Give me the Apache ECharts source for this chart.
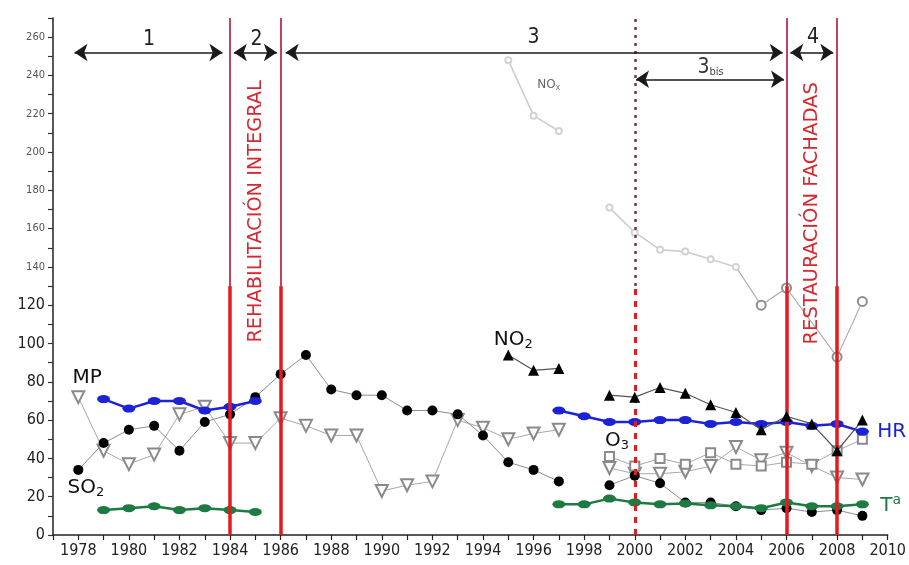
<!DOCTYPE html>
<html>
<head>
<meta charset="utf-8">
<script src="https://cdn.jsdelivr.net/npm/echarts@6/dist/echarts.min.js"></script>
<style>
  html, body { margin: 0; padding: 0; background: #ffffff; }
  #chart { width: 909px; height: 565px; }
</style>
</head>
<body>
<div id="chart"></div>
<script>
// Yearly series, 1978-2009 (null = no measurement that year)
const years = [1978,1979,1980,1981,1982,1983,1984,1985,1986,1987,1988,1989,1990,1991,1992,1993,
               1994,1995,1996,1997,1998,1999,2000,2001,2002,2003,2004,2005,2006,2007,2008,2009];
const so2 = [34,48,55,57,44,59,63,72,84,94,76,73,73,65,65,63,52,38,34,28,null,26,31,27,17,17,15,13,14,12,13,10];
const mp  = [72,44,37,42,63,67,48,48,61,57,52,52,23,26,28,60,56,50,53,55,null,35,32,32,33,36,46,39,43,36,30,29];
const no2 = [null,null,null,null,null,null,null,null,null,null,null,null,null,null,null,null,
             null,94,86,87,null,73,72,77,74,68,64,55,62,58,44,60];
const o3  = [null,null,null,null,null,null,null,null,null,null,null,null,null,null,null,null,
             null,null,null,null,null,41,36,40,37,43,37,36,38,37,44,50];
const hr  = [null,71,66,70,70,65,67,70,null,null,null,null,null,null,null,null,
             null,null,null,65,62,59,59,60,60,58,59,58,59,57,58,54];
const ta  = [null,13,14,15,13,14,13,12,null,null,null,null,null,null,null,null,
             null,null,null,16,16,19,17,16,16.5,15.5,15,14,17,15,15,16];
// NOx: no value for 2007, the line runs straight from 2006 to 2008
const noxYears  = [1995,1996,1997,1998,1999,2000,2001,2002,2003,2004,2005,2006,2008,2009];
const noxValues = [248,219,211,null,171,158,149,148,144,140,120,129,93,122];
const noxHighEnd = 10; // first points (through 2004) belong to the faint upper panel

// Works on the building: solid lines bound the works, dashed line marks 2000
const worksYears = [1984, 1986, 2006, 2008];
const splitYear = 2000;
const worksTexts = [
  { x: 1985, bottom: 100.5, top: 237.5, text: 'REHABILITACIÓN INTEGRAL' },
  { x: 2007, bottom: 99.5, top: 236.5, text: 'RESTAURACIÓN FACHADAS' }
];
// Period arrows: [from, to, level, label, labelX, labelLevel]
const periods = [
  [1977.85, 1983.7, 252, '1', 1980.8, 259],
  [1984.15, 1985.85, 252, '2', 1985.05, 259],
  [1986.2, 2005.85, 252, '3', 1996.0, 260],
  [2006.15, 2007.85, 252, '4', 2007.05, 260],
  [2000.05, 2005.9, 238, '3bis', 2003.0, 244]
];

const FONT = '"DejaVu Sans", Verdana, sans-serif';
const AXIS_FONT = '"DejaVu Sans Condensed", "Liberation Sans", Arial, sans-serif';
const YMAX = 270;

function pairs(xs, vs) {
  return xs.map((x, i) => [x, vs[i] == null ? '-' : vs[i]]);
}

const seriesCommon = { type: 'line', z: 4, animation: false, connectNulls: false };

const markLines = [];
worksYears.forEach(yr => {
  markLines.push([
    { coord: [yr, 0], lineStyle: { color: '#e31b1f', width: 3.5, type: 'solid' } },
    { coord: [yr, 130] }
  ]);
  markLines.push([
    { coord: [yr, 130], lineStyle: { color: '#b8304a', width: 1.8, type: 'solid' } },
    { coord: [yr, YMAX] }
  ]);
});
markLines.push([
  { coord: [splitYear, 0], lineStyle: { color: '#e31b1f', width: 3, type: [6, 6] } },
  { coord: [splitYear, 130] }
]);
markLines.push([
  { coord: [splitYear, 130], lineStyle: { color: '#6e3a52', width: 2.5, type: [3, 5] } },
  { coord: [splitYear, YMAX] }
]);

const arrowLines = periods.map(p => [
  { coord: [p[0], p[2]] },
  { coord: [p[1], p[2]] }
]);

const textRich = {
  big: { fontSize: 21, color: '#222', fontFamily: AXIS_FONT },
  n: { fontSize: 20, color: '#111', fontFamily: FONT },
  sub: { fontSize: 13, color: '#111', fontFamily: FONT, padding: [9, 0, 0, 0] },
  bisN: { fontSize: 21, color: '#333', fontFamily: AXIS_FONT },
  bisS: { fontSize: 11, color: '#444', fontFamily: AXIS_FONT, padding: [8, 0, 0, 0] },
  hr: { fontSize: 20, color: '#1c22d6', fontFamily: FONT },
  ta: { fontSize: 20, color: '#1d7a42', fontFamily: FONT },
  taSup: { fontSize: 14, color: '#1d7a42', fontFamily: FONT, padding: [0, 0, 9, 0] },
  nox: { fontSize: 12, color: '#666', fontFamily: FONT },
  noxS: { fontSize: 8, color: '#777', fontFamily: FONT, padding: [5, 0, 0, 0] }
};

function tag(x, y, formatter, offset) {
  return {
    coord: [x, y], symbolSize: 0,
    label: { show: true, position: 'inside', formatter: formatter, rich: textRich, offset: offset || [0, 0] }
  };
}

const labels = [
  tag(1978.35, 82, '{n|MP}'),
  tag(1978.3, 24.5, '{n|SO}{sub|2}'),
  tag(1995.2, 102, '{n|NO}{sub|2}'),
  tag(1999.3, 49, '{n|O}{sub|3}'),
  // side labels sit just past the last year on the axis
  tag(2010, 54, '{hr|HR}', [4, 0]),
  tag(2010, 15.5, '{ta|T}{taSup|a}', [3, 0]),
  tag(1996.6, 235, '{nox|NO}{noxS|x}')
];
periods.forEach(p => {
  if (p[3] === '3bis') labels.push(tag(p[4], p[5], '{bisN|3}{bisS|bis}'));
  else labels.push(tag(p[4], p[5], '{big|' + p[3] + '}'));
});

const noxLow = pairs(noxYears.slice(noxHighEnd - 1), noxValues.slice(noxHighEnd - 1));
noxLow[0] = { value: noxLow[0], symbolSize: 0 };

const option = {
  backgroundColor: '#ffffff',
  animation: false,
  grid: { left: 53, right: 19, top: 18, bottom: 30, containLabel: false },
  xAxis: {
    type: 'value', min: 1977, max: 2010, interval: 1,
    axisLine: { show: true, lineStyle: { color: '#222', width: 1.5 } },
    axisTick: { show: true, length: 5, lineStyle: { color: '#222', width: 1.2 } },
    axisLabel: {
      margin: 8, fontSize: 16, color: '#222', fontFamily: AXIS_FONT,
      formatter: v => (v % 2 === 0 && v >= 1978) ? String(v) : ''
    },
    splitLine: { show: false }
  },
  yAxis: {
    type: 'value', min: 0, max: YMAX, interval: 10,
    axisLine: { show: true, onZero: false, lineStyle: { color: '#222', width: 1.5 } },
    axisTick: { show: true, length: 5, lineStyle: { color: '#333', width: 1.2 } },
    axisLabel: {
      margin: 8, fontFamily: AXIS_FONT,
      formatter: v => (v % 20 !== 0 || v > 260) ? '' : (v >= 140 ? '{u|' + v + '}' : '{l|' + v + '}'),
      rich: {
        u: { fontSize: 11, color: '#555', fontFamily: AXIS_FONT },
        l: { fontSize: 16, color: '#222', fontFamily: AXIS_FONT }
      }
    },
    splitLine: { show: false }
  },
  series: [
    {
      type: 'line', name: 'marks', data: [], z: 2, silent: true, clip: false,
      markLine: { silent: true, symbol: ['none', 'none'], label: { show: false }, data: markLines, animation: false }
    },
    {
      type: 'line', name: 'periods', data: [], z: 5, silent: true, clip: false,
      markLine: {
        silent: true, symbol: ['arrow', 'arrow'], symbolSize: 13,
        lineStyle: { color: '#1a1a1a', width: 1.5, type: 'solid' },
        label: { show: false }, data: arrowLines, animation: false
      },
      markPoint: { silent: true, data: labels, animation: false }
    },
    Object.assign({}, seriesCommon, {
      name: 'NOx', data: pairs(noxYears.slice(0, noxHighEnd), noxValues.slice(0, noxHighEnd)),
      symbol: 'emptyCircle', symbolSize: 6,
      itemStyle: { color: '#d2d2d2', borderWidth: 1 },
      lineStyle: { color: '#cdcdcd', width: 1.6 }
    }),
    Object.assign({}, seriesCommon, {
      name: 'NOx', data: noxLow,
      symbol: 'emptyCircle', symbolSize: 9,
      itemStyle: { color: '#8e8e8e', borderWidth: 1.1 },
      lineStyle: { color: '#a8a8a8', width: 1.1 }
    }),
    Object.assign({}, seriesCommon, {
      name: 'MP', data: pairs(years, mp),
      symbol: 'emptyTriangle', symbolRotate: 180, symbolSize: 12,
      itemStyle: { color: '#8a8a8a', borderWidth: 1.2 },
      lineStyle: { color: '#a8a8a8', width: 1 }
    }),
    Object.assign({}, seriesCommon, {
      name: 'O3', data: pairs(years, o3),
      symbol: 'emptyRect', symbolSize: 9,
      itemStyle: { color: '#8a8a8a', borderWidth: 1.2 },
      lineStyle: { color: '#a8a8a8', width: 1 }
    }),
    Object.assign({}, seriesCommon, {
      name: 'SO2', data: pairs(years, so2),
      symbol: 'circle', symbolSize: 10,
      itemStyle: { color: '#000000' },
      lineStyle: { color: '#8c8c8c', width: 1 }
    }),
    Object.assign({}, seriesCommon, {
      name: 'HR', data: pairs(years, hr),
      symbol: 'circle', symbolSize: [13, 8],
      itemStyle: { color: '#1c22d6' },
      lineStyle: { color: '#1c22d6', width: 2.5 }
    }),
    Object.assign({}, seriesCommon, {
      name: 'Ta', data: pairs(years, ta),
      symbol: 'circle', symbolSize: [13, 8],
      itemStyle: { color: '#1d7a42' },
      lineStyle: { color: '#1d7a42', width: 2.5 }
    }),
    Object.assign({}, seriesCommon, {
      name: 'NO2', data: pairs(years, no2), z: 6,
      symbol: 'triangle', symbolSize: 11,
      itemStyle: { color: '#000000' },
      lineStyle: { color: '#555555', width: 1.2 }
    })
  ]
};

const chart = echarts.init(document.getElementById('chart'), null, { renderer: 'canvas' });
chart.setOption(option);

// Vertical captions of the works, condensed to span their stretch of the axis
(function placeWorksTexts() {
  const ctx = document.createElement('canvas').getContext('2d');
  const font = '20px "DejaVu Sans", Verdana, sans-serif';
  ctx.font = font;
  const elements = worksTexts.map(w => {
    const pTop = chart.convertToPixel({ gridIndex: 0 }, [w.x, w.top]);
    const pBot = chart.convertToPixel({ gridIndex: 0 }, [w.x, w.bottom]);
    const width = ctx.measureText(w.text).width;
    const span = pBot[1] - pTop[1];
    return {
      type: 'text', x: pTop[0], y: (pTop[1] + pBot[1]) / 2,
      rotation: Math.PI / 2, scaleX: span / width, scaleY: 1, z: 10, silent: true,
      style: { text: w.text, font: font, fill: '#d6282e', align: 'center', verticalAlign: 'middle' }
    };
  });
  chart.setOption({ graphic: elements });
})();
</script>
</body>
</html>
